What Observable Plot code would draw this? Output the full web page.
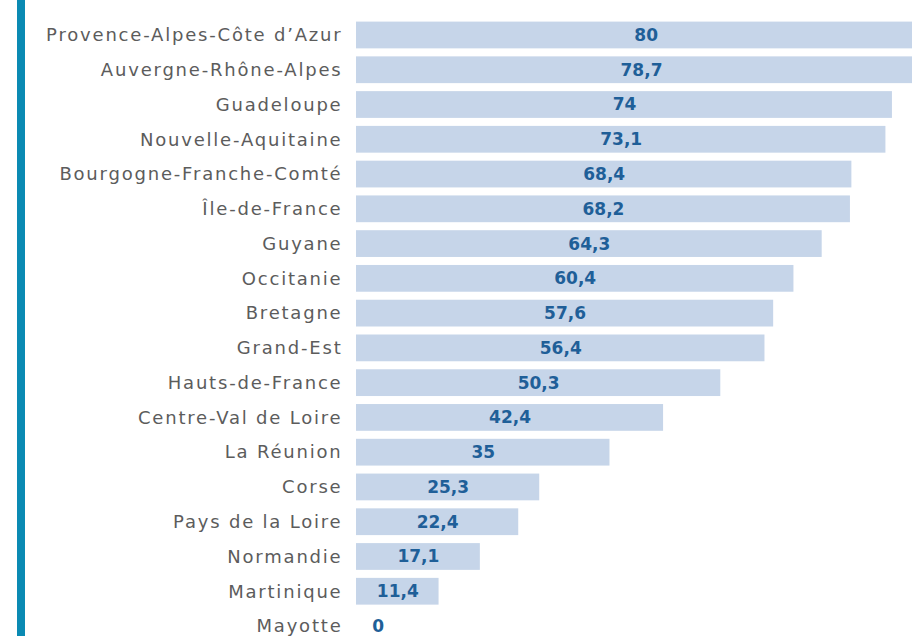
<!DOCTYPE html>
<html>
<head>
<meta charset="utf-8">
<script src="https://cdn.jsdelivr.net/npm/d3@7"></script>
<script src="https://cdn.jsdelivr.net/npm/@observablehq/plot@0.6"></script>
<style>
  html, body { margin: 0; padding: 0; background: #fff; overflow: hidden; }
  #wrap { position: relative; width: 912px; height: 636px; }
  #accent { position: absolute; left: 17px; top: 0; width: 8px; height: 636px; background: #0a8ab3; }
  #chart { position: absolute; left: 0; top: 0; }
  #chart g[aria-label="y-axis tick label"] text { letter-spacing: 1.8px; }
</style>
</head>
<body>
<div id="wrap"><div id="chart"></div><div id="accent"></div></div>
<script>
const regions = ["Provence-Alpes-Côte d’Azur","Auvergne-Rhône-Alpes","Guadeloupe","Nouvelle-Aquitaine","Bourgogne-Franche-Comté","Île-de-France","Guyane","Occitanie","Bretagne","Grand-Est","Hauts-de-France","Centre-Val de Loire","La Réunion","Corse","Pays de la Loire","Normandie","Martinique","Mayotte"];
const values = [80,78.7,74,73.1,68.4,68.2,64.3,60.4,57.6,56.4,50.3,42.4,35,25.3,22.4,17.1,11.4,0];

const data = regions.map((r, i) => ({region: r, value: values[i]}));
const fmt = v => String(v).replace(".", ",");

const chart = Plot.plot({
  width: 912,
  height: 636,
  marginLeft: 356,
  marginRight: 0,
  marginTop: 0,
  marginBottom: 0,
  style: {background: "transparent"},
  x: {domain: [0, 76.77], axis: null},
  y: {domain: regions, range: [17.6, 643.4], padding: 0, round: false, label: null, tickSize: 0},
  marks: [
    Plot.barX(data, {x: "value", y: "region", fill: "#c6d5e9", clip: true, insetTop: 4, insetBottom: 4}),
    Plot.text(data, {x: d => Math.max(d.value / 2, 3), y: "region", text: d => fmt(d.value),
      fill: "#1f5f98", fontWeight: "bold", fontSize: 17, fontFamily: "DejaVu Sans", dy: 0}),
    Plot.axisY({tickSize: 0, tickPadding: 14, fontSize: 18, fill: "#5c5c5c", fontFamily: "DejaVu Sans", label: null})
  ]
});
document.getElementById("chart").appendChild(chart);
</script>
</body>
</html>
